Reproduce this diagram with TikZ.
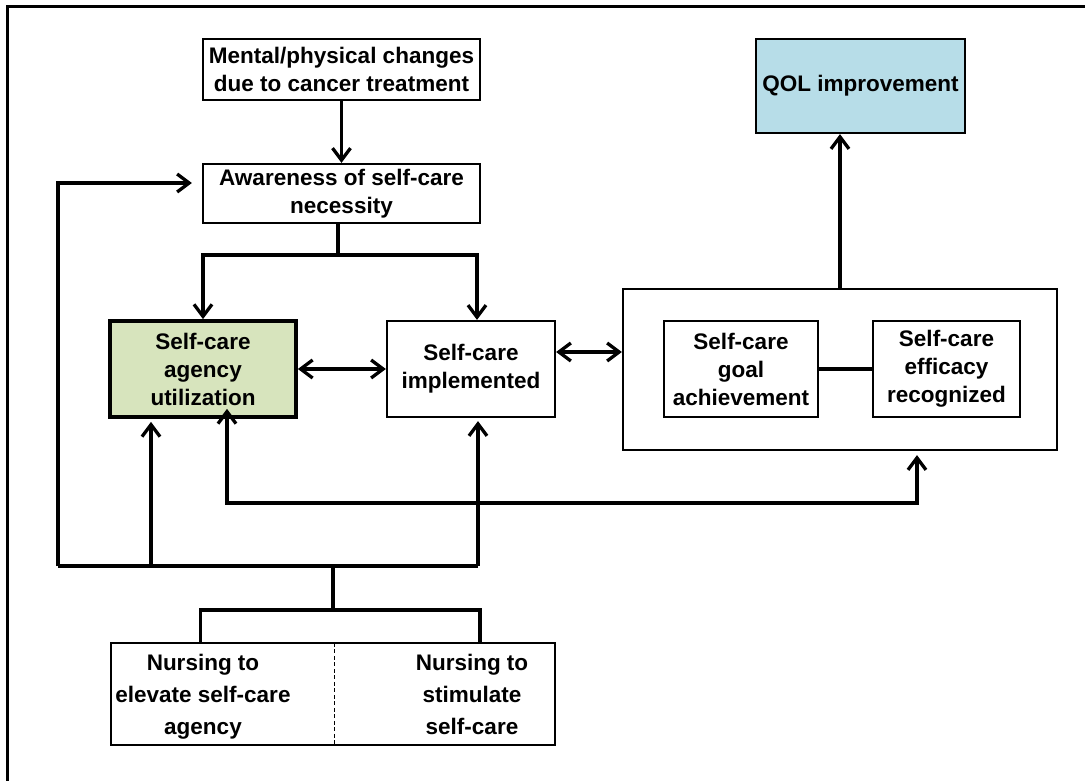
\documentclass[tikz,border=0pt]{standalone}
\usepackage{fontspec}
\setmainfont{Liberation Sans}
\usetikzlibrary{arrows.meta,calc}
\definecolor{greenc}{HTML}{D7E4BD}
\definecolor{bluec}{HTML}{B7DDE8}
\begin{document}
\begin{tikzpicture}[x=1pt,y=-1pt,
  box/.style={draw, line width=2.2pt, inner sep=0pt, align=center, font=\bfseries\fontsize{22.5}{28}\selectfont},
  txt/.style={inner sep=0pt, align=center, font=\bfseries\fontsize{22.5}{32}\selectfont},
  ln/.style={line width=3.3pt},
  tipb/.tip={Straight Barb[length=12pt,width=18pt]},
  arr/.style={ln, -tipb},
  darr/.style={ln, tipb-tipb},
]
\useasboundingbox (0,0) rectangle (1085,781);
\draw[line width=3pt] (7.5,781) -- (7.5,6.5) -- (1085,6.5);

% boxes
\node[box, minimum width=277, minimum height=61] (mental) at (341.5,69.5) {Mental/physical changes\\due to cancer treatment};
\node[box, minimum width=277, minimum height=59] (aware) at (341.5,193.5) {Awareness of self-care\\necessity};
\node[box, fill=bluec, minimum width=209, minimum height=94] (qol) at (860.5,86) {QOL improvement};
\node[box, fill=greenc, line width=3.8pt, minimum width=186, minimum height=96] (green) at (203,369) {Self-care\\agency\\utilization};
\node[box, minimum width=168, minimum height=96] (impl) at (471,369) {Self-care\\implemented};
\node[box, minimum width=434, minimum height=161] (big) at (840,369.5) {};
\node[box, minimum width=154, minimum height=96] (goal) at (741,369) {Self-care\\goal\\achievement};
\node[box, minimum width=147, minimum height=96] (eff) at (946.5,369) {Self-care\\efficacy\\recognized};

% nursing box
\node[inner sep=0pt, minimum width=223, minimum height=102] (nL) at (222.5,694) {};
\node[inner sep=0pt, minimum width=221, minimum height=102] (nR) at (444.5,694) {};
\draw[line width=2.2pt] (nL.north west) rectangle (nR.south east);
\draw[line width=1pt, dash pattern=on 4pt off 2.5pt] (nL.north east) -- (nL.south east);
\node[txt, anchor=north] (tL) at (203,654) {Nursing to\\elevate self-care\\agency};
\node[txt, anchor=north] (tR) at (472,654) {Nursing to\\stimulate\\self-care};

% coordinates
\coordinate (t1) at ($(aware.south)+(-3.5,31)$);
\coordinate (implN) at ($(impl.north)+(6,0)$);
\coordinate (implS) at ($(impl.south)+(7,3)$);
\coordinate (gS) at ($(green.south)+(-52,3)$);
\coordinate (g2) at ($(green.south)+(24,-10)$);
\coordinate (low) at (0,503);
\coordinate (bigS) at ($(big.south)+(77,4)$);
\coordinate (hub) at (333,610);
\coordinate (bus) at (333,566);
\coordinate (bl) at (58,566);
\coordinate (br) at (478,566);
\coordinate (p1) at ($(nL.north west)!0.4!(nL.north east)$);
\coordinate (p2) at ($(nR.north west)!0.66!(nR.north east)$);
\coordinate (awIn) at ($(aware.west)+(-10,-10.5)$);

% connectors
\draw[arr] (mental.south) -- (aware.north);
\draw[ln] (aware.south -| t1) -- (t1);
\draw[arr] (t1) -| (green.north);
\draw[arr] (t1) -| (implN);
\draw[darr] (green.east) -- (impl.west);
\draw[darr] ($(impl.east)+(0,-17)$) -- ($(big.west)+(0,-17.5)$);
\draw[ln] (goal.east) -- (eff.west);
\draw[arr] (big.north) -- (big.north |- qol.south);

\draw[arr] (bl) |- (awIn);
\draw[ln] (bl) -- (br);
\draw[arr] (br) -- (implS);
\draw[arr] (gS |- bus) -- (gS);
\draw[darr] (g2) -- (g2 |- low) -| (bigS);
\draw[ln] (hub) -- (bus);
\draw[ln] (p1) |- (hub) -| (p2);
\end{tikzpicture}
\end{document}
